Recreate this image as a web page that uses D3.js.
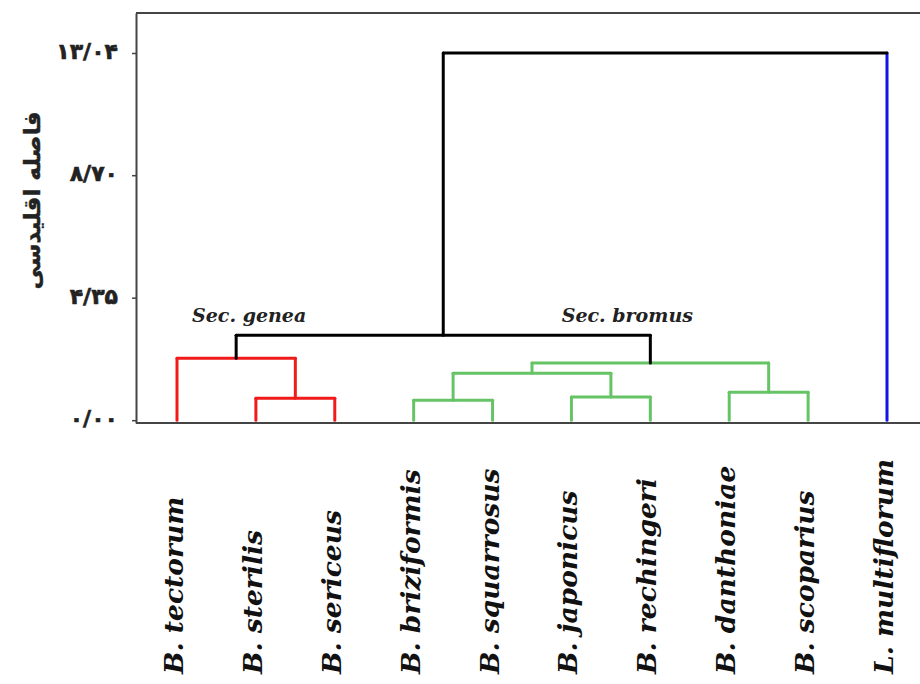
<!DOCTYPE html>
<html>
<head>
<meta charset="utf-8">
<script src="https://cdn.jsdelivr.net/npm/d3@7"></script>
<style>
  html, body { margin: 0; padding: 0; background: #fff; }
  svg { display: block; }
</style>
</head>
<body>
<svg id="chart" width="920" height="684"></svg>
<script>
// ---- data ----
const leaves = ["B. tectorum", "B. sterilis", "B. sericeus", "B. briziformis", "B. squarrosus",
                "B. japonicus", "B. rechingeri", "B. danthoniae", "B. scoparius", "L. multiflorum"];
const leafGroups = ["genea", "genea", "genea", "bromus", "bromus", "bromus", "bromus", "bromus", "bromus", "out"];
// merges: [left node id, right node id, height]; leaves are ids 0..9, merge k gets id 10+k
const mergeLeft   = [1, 0, 3, 5, 7, 12, 15, 11, 17];
const mergeRight  = [2, 10, 4, 6, 8, 13, 14, 16, 9];
const mergeHeight = [0.78, 2.20, 0.71, 0.82, 0.99, 1.67, 2.03, 3.02, 13.04];
const tickValues = [0, 4.35, 8.70, 13.04];
const tickLabels = ["۰/۰۰", "۴/۳۵", "۸/۷۰", "۱۳/۰۴"];
const sectionNames = ["Sec. genea", "Sec. bromus"];
const sectionNodes = [10 + 1, 10 + 6]; // cluster nodes the section labels sit above
const yTitle = "فاصله اقلیدسی";

// ---- styles ----
const groupColor = { genea: "#f01a1a", bromus: "#66c466", out: "#1414e6" };
const mixedColor = "#000";
const sectionOffset = [13, -23];

const svg = d3.select("#chart");
const x = d3.scalePoint().domain(leaves).range([177, 887]);
const y = d3.scaleLinear().domain([-0.1, 14.46]).range([423, 13]);

// build nodes
const nodes = leaves.map((name, i) => ({ id: i, x: x(name), h: 0, groups: new Set([leafGroups[i]]), leaf: true }));
mergeHeight.forEach((h, k) => {
  const a = nodes[mergeLeft[k]], b = nodes[mergeRight[k]];
  nodes.push({ id: 10 + k, x: (a.x + b.x) / 2, h, left: a, right: b,
               groups: new Set([...a.groups, ...b.groups]), leaf: false });
});
function pureColor(n) { return n.groups.size === 1 ? groupColor[[...n.groups][0]] : null; }

const g = svg.append("g");

// frame
const frame = g.append("g").attr("stroke", "#444").attr("stroke-width", 2);
frame.append("line").attr("x1", 136).attr("x2", 920).attr("y1", y(14.46)).attr("y2", y(14.46));
frame.append("line").attr("x1", 136).attr("x2", 920).attr("y1", y(-0.1)).attr("y2", y(-0.1));

// axis
const axis = d3.axisLeft(y).tickValues(tickValues).tickFormat((d, i) => tickLabels[i])
  .tickSize(4).tickSizeOuter(0).tickPadding(14);
const ax = g.append("g").attr("transform", "translate(136,0)").call(axis);
ax.select(".domain").attr("stroke", "#444").attr("stroke-width", 2);
ax.selectAll(".tick line").attr("stroke", "#444").attr("stroke-width", 1.5);
ax.selectAll(".tick text").attr("font-family", "DejaVu Sans").attr("font-weight", "bold")
  .attr("font-size", 22).attr("fill", "#222").attr("stroke", "#222").attr("stroke-width", 0.6)
  .attr("dy", "0.25em");

// y title
g.append("text")
  .attr("transform", `translate(40,${y(7.8)}) rotate(-90)`)
  .attr("text-anchor", "middle")
  .attr("font-family", "DejaVu Sans").attr("font-weight", "bold").attr("font-size", 23)
  .attr("fill", "#222").attr("stroke", "#222").attr("stroke-width", 0.4)
  .text(yTitle);

// dendrogram links
const links = g.append("g").attr("fill", "none").attr("stroke-width", 3)
  .attr("stroke-linecap", "round").attr("stroke-linejoin", "round");
nodes.filter(n => !n.leaf).forEach(p => {
  const pc = pureColor(p) || mixedColor;
  [p.left, p.right].forEach(c => {
    let col = pureColor(p);
    if (!col) col = c.leaf ? groupColor[leafGroups[c.id]] : mixedColor;
    links.append("line").attr("x1", c.x).attr("x2", c.x)
      .attr("y1", y(c.h)).attr("y2", y(p.h)).attr("stroke", col);
  });
  links.append("line").attr("x1", p.left.x).attr("x2", p.right.x)
    .attr("y1", y(p.h)).attr("y2", y(p.h)).attr("stroke", pc);
});

// section labels
sectionNames.forEach((s, i) => {
  const n = nodes[sectionNodes[i]];
  g.append("text")
    .attr("x", n.x + sectionOffset[i]).attr("y", y(mergeHeight[7]) - 13)
    .attr("text-anchor", "middle")
    .attr("font-family", "DejaVu Serif").attr("font-style", "italic").attr("font-weight", "bold")
    .attr("font-size", 19).attr("fill", "#222")
    .text(s);
});

// leaf labels
g.append("g").selectAll("text").data(leaves).join("text")
  .attr("transform", d => `translate(${x(d) + 6},674) rotate(-90)`)
  .attr("text-anchor", "start")
  .attr("font-family", "DejaVu Serif").attr("font-style", "italic").attr("font-weight", "bold")
  .attr("font-size", 26.5).attr("fill", "#111")
  .text(d => d);
</script>
</body>
</html>
